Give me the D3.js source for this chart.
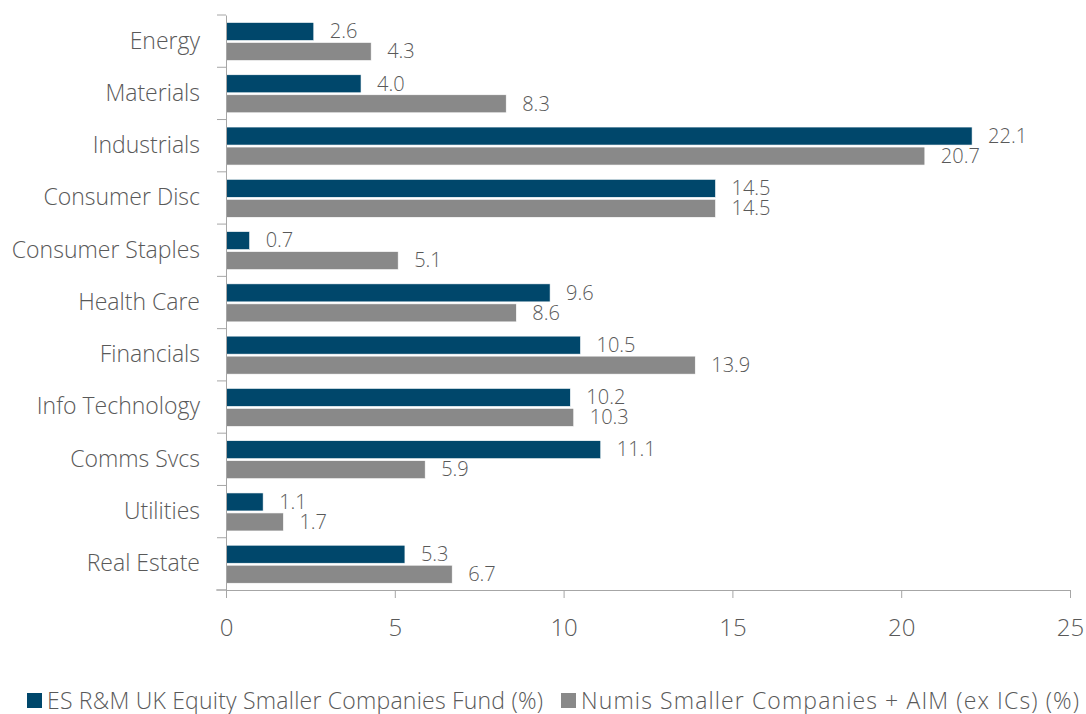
<!DOCTYPE html>
<html>
<head>
<meta charset="utf-8">
<script src="https://cdn.jsdelivr.net/npm/d3@7"></script>
<style>
  body { margin: 0; background: #fff; }
  text { font-family: "Open Sans", sans-serif; font-weight: 300; fill: #595959; }
</style>
</head>
<body>
<div id="chart"></div>
<script>
// data
var categories = ["Energy", "Materials", "Industrials", "Consumer Disc", "Consumer Staples",
  "Health Care", "Financials", "Info Technology", "Comms Svcs", "Utilities", "Real Estate"];
var fundValues = [2.6, 4.0, 22.1, 14.5, 0.7, 9.6, 10.5, 10.2, 11.1, 1.1, 5.3];
var indexValues = [4.3, 8.3, 20.7, 14.5, 5.1, 8.6, 13.9, 10.3, 5.9, 1.7, 6.7];
var seriesNames = ["ES R&M UK Equity Smaller Companies Fund (%)", "Numis Smaller Companies + AIM (ex ICs) (%)"];
var xTicks = [0, 5, 10, 15, 20, 25];

var colors = ["#00476b", "#898989"];
var width = 1086, height = 714;
var margin = { top: 15, right: 16, bottom: 124, left: 226 };
var w = width - margin.left - margin.right,
    h = height - margin.top - margin.bottom;

var svg = d3.select("#chart").append("svg")
  .attr("width", width)
  .attr("height", height);

var g = svg.append("g")
  .attr("transform", "translate(" + margin.left + "," + margin.top + ")");

var x = d3.scaleLinear().domain([0, 25]).range([0, w]);
var y = d3.scaleBand().domain(categories).range([0, h]);

var rows = categories.map(function(c, i) {
  return { cat: c, vals: [fundValues[i], indexValues[i]] };
});

// bars
var barH = 18, gap = 2, topPad = 7.5;
var grp = g.selectAll(".grp").data(rows).enter().append("g")
  .attr("transform", function(d) { return "translate(0," + y(d.cat) + ")"; });

grp.selectAll("rect")
  .data(function(d) { return d.vals; })
  .enter().append("rect")
  .attr("x", x(0))
  .attr("y", function(d, i) { return topPad + i * (barH + gap); })
  .attr("width", function(d) { return x(d) - x(0); })
  .attr("height", barH)
  .attr("fill", function(d, i) { return colors[i]; })
  .attr("stroke", "#fff")
  .attr("stroke-width", 0.6);

grp.selectAll(".lbl")
  .data(function(d) { return d.vals; })
  .enter().append("text")
  .attr("class", "lbl")
  .attr("x", function(d) { return x(d) + 16; })
  .attr("y", function(d, i) { return topPad + i * (barH + gap) + barH / 2; })
  .attr("dy", "0.34em")
  .style("font-size", "20px")
  .text(function(d) { return d.toFixed(1); });

// y axis
var yAxis = g.append("g").call(d3.axisLeft(y).tickSize(0).tickPadding(26));
yAxis.select(".domain").attr("stroke", "#a6a6a6");
yAxis.selectAll("text").style("font-size", "23px").attr("fill", "#595959");
// boundary ticks between categories
g.selectAll(".ytick").data(d3.range(categories.length + 1)).enter().append("line")
  .attr("x1", -9).attr("x2", 0)
  .attr("y1", function(i) { return i * y.step(); })
  .attr("y2", function(i) { return i * y.step(); })
  .attr("stroke", "#a6a6a6");

// x axis
var xAxis = g.append("g")
  .attr("transform", "translate(0," + h + ")")
  .call(d3.axisBottom(x).tickValues(xTicks).tickSize(8).tickPadding(21).tickSizeOuter(0));
xAxis.select(".domain").attr("stroke", "#a6a6a6");
xAxis.selectAll("line").attr("stroke", "#a6a6a6");
xAxis.selectAll("text").style("font-size", "24px").attr("fill", "#595959");
// axis line goes a little left of zero
g.append("line").attr("x1", -10).attr("x2", 0).attr("y1", h).attr("y2", h).attr("stroke", "#a6a6a6");

// legend
var legendX = [27, 561];
var legendLen = [496, 498];
var leg = svg.selectAll(".leg").data(seriesNames).enter().append("g")
  .attr("transform", function(d, i) { return "translate(" + legendX[i] + ",693)"; });
leg.append("rect").attr("width", 15).attr("height", 15)
  .attr("fill", function(d, i) { return colors[i]; });
leg.append("text")
  .attr("x", 20).attr("y", 7.5).attr("dy", "0.36em")
  .style("font-size", "23px")
  .attr("textLength", function(d, i) { return legendLen[i]; })
  .attr("lengthAdjust", "spacing")
  .text(function(d) { return d; });
</script>
</body>
</html>
